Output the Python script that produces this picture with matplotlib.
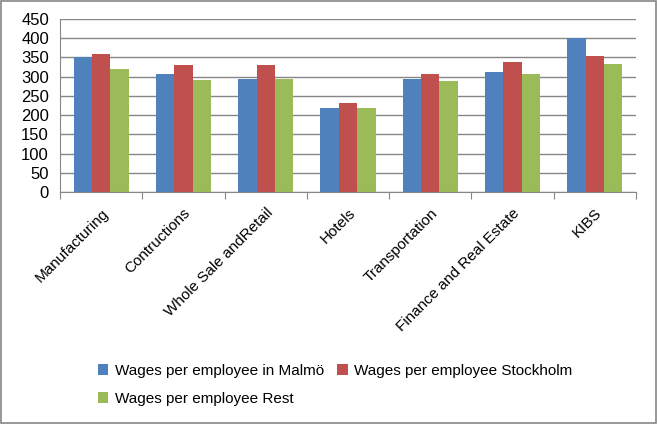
import numpy as np
import matplotlib.pyplot as plt
from matplotlib.patches import Rectangle

# Data
sectors = ['Manufacturing', 'Contructions', 'Whole Sale andRetail', 'Hotels',
           'Transportation', 'Finance and Real Estate', 'KIBS']
malmo = [351, 308, 295, 219, 295, 313, 400]
stockholm = [360, 331, 331, 232, 308, 339, 355]
rest = [321, 292, 295, 219, 290, 308, 334]

plt.rcParams['font.family'] = ['Liberation Sans', 'DejaVu Sans']

fig = plt.figure(figsize=(6.57, 4.24), dpi=100)
ax = fig.add_axes([60 / 657, 1 - 192 / 424, 576 / 657, 173 / 424])

x = np.arange(len(sectors))
w = 0.223
b1 = ax.bar(x - w, malmo, w, color='#4f81bd', label='Wages per employee in Malmö')
b2 = ax.bar(x, stockholm, w, color='#c0504d', label='Wages per employee Stockholm')
b3 = ax.bar(x + w, rest, w, color='#9bbb59', label='Wages per employee Rest')

ax.set_xlim(-0.5, len(sectors) - 0.5)
ax.set_ylim(0, 450)
ax.set_yticks(range(0, 451, 50))
ax.yaxis.grid(True, color='#868686', linewidth=1)
ax.set_axisbelow(True)
for s in ['top', 'right']:
    ax.spines[s].set_visible(False)
for s in ['left', 'bottom']:
    ax.spines[s].set_color('#868686')
ax.tick_params(axis='y', length=0, labelsize=12, pad=8)

ax.set_xticks(np.arange(-0.5, len(sectors), 1))
ax.set_xticklabels([])
ax.tick_params(axis='x', which='major', length=5, color='#868686', direction='out')
ax.set_xticks(x, minor=True)
ax.set_xticklabels(sectors, minor=True, rotation=45, ha='right',
                   rotation_mode='anchor', fontsize=11)
ax.tick_params(axis='x', which='minor', length=0, pad=10)

leg = fig.legend([b1, b3, b2], [b1.get_label(), b3.get_label(), b2.get_label()],
                 ncol=2, loc='upper left', bbox_to_anchor=(84 / 657, 1 - 350 / 424),
                 frameon=False, fontsize=11, handlelength=0.7, handleheight=0.7,
                 handletextpad=0.4, columnspacing=0.9, labelspacing=0.9)

fig.patches.append(Rectangle((0.002, 0.002), 0.996, 0.996, transform=fig.transFigure,
                             fill=False, edgecolor='#868686', linewidth=1.2))

fig.savefig('out.png', dpi=100)
